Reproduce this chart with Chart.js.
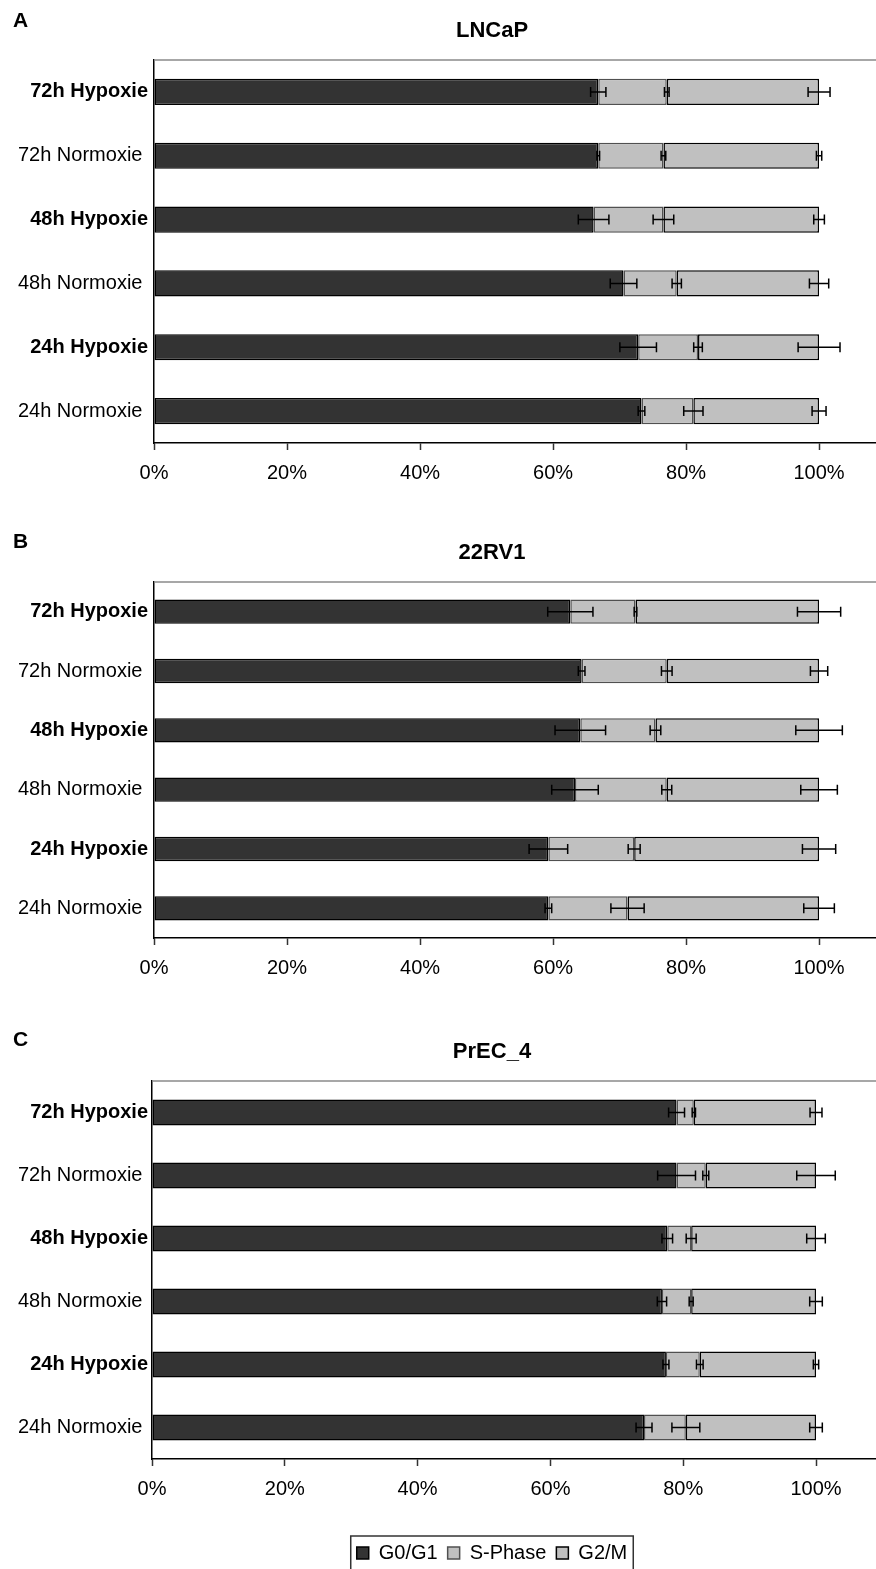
<!DOCTYPE html>
<html>
<head>
<meta charset="utf-8">
<title>Cell cycle distribution</title>
<script src="https://cdn.jsdelivr.net/npm/chart.js@4/dist/chart.umd.min.js"></script>
<style>
  html, body { margin: 0; padding: 0; background: #fff; width: 876px; height: 1569px; overflow: hidden; }
  canvas.panel { position: absolute; left: 0; }
</style>
</head>
<body>
<canvas id="panelA" class="panel"></canvas>
<canvas id="panelB" class="panel"></canvas>
<canvas id="panelC" class="panel"></canvas>
<script>
// ---- data ----
const categories = ['72h Hypoxie', '72h Normoxie ', '48h Hypoxie', '48h Normoxie ', '24h Hypoxie', '24h Normoxie '];
const seriesNames = ['G0/G1', 'S-Phase', 'G2/M'];
const xTicks = [0, 20, 40, 60, 80, 100];

// LNCaP (% of cells per phase, with error)
const lncapG0 = [66.8, 66.8, 66.1, 70.6, 72.8, 73.3];
const lncapS = [10.3, 9.8, 10.5, 8.0, 9.0, 7.8];
const lncapG2 = [22.9, 23.4, 23.4, 21.4, 18.2, 18.9];
const lncapG0Err = [1.15, 0.2, 2.3, 2.0, 2.75, 0.5];
const lncapSErr = [0.35, 0.35, 1.55, 0.7, 0.65, 1.45];
const lncapG2Err = [1.65, 0.4, 0.8, 1.45, 3.15, 1.05];

// 22RV1
const rv1G0 = [62.6, 64.3, 64.1, 63.3, 59.3, 59.3];
const rv1S = [9.8, 12.8, 11.3, 13.8, 12.9, 11.9];
const rv1G2 = [27.6, 22.9, 24.6, 22.9, 27.8, 28.8];
const rv1G0Err = [3.4, 0.5, 3.8, 3.5, 2.9, 0.5];
const rv1SErr = [0.2, 0.8, 0.8, 0.75, 0.9, 2.5];
const rv1G2Err = [3.25, 1.3, 3.5, 2.75, 2.5, 2.3];

// PrEC_4
const precG0 = [79.0, 79.0, 77.6, 76.8, 77.4, 74.1];
const precS = [2.6, 4.4, 3.6, 4.4, 5.1, 6.3];
const precG2 = [18.4, 16.6, 18.8, 18.8, 17.5, 19.6];
const precG0Err = [1.2, 2.85, 0.8, 0.7, 0.45, 1.2];
const precSErr = [0.25, 0.45, 0.75, 0.3, 0.5, 2.1];
const precG2Err = [0.9, 2.9, 1.4, 0.95, 0.4, 0.95];

// ---- styling ----
const FONT = '"Liberation Sans", Arial, Helvetica, sans-serif';
const phaseFill = ['#333333', '#c0c0c0', '#c0c0c0'];
const phaseBorder = ['#000000', '#505050', '#000000'];

// whiskers at the end of every stacked segment
const errorBarPlugin = {
  id: 'errorBars',
  afterDatasetsDraw(chart) {
    const { ctx } = chart;
    const xs = chart.scales.x;
    const totals = [];
    ctx.save();
    ctx.strokeStyle = '#000';
    ctx.lineWidth = 1.5;
    chart.data.datasets.forEach((ds, di) => {
      const meta = chart.getDatasetMeta(di);
      ds.data.forEach((v, i) => {
        totals[i] = (totals[i] || 0) + v;
        const err = ds.errors[i];
        const y = meta.data[i].y;
        const x1 = xs.getPixelForValue(totals[i] - err);
        const x2 = xs.getPixelForValue(totals[i] + err);
        const cap = 5;
        ctx.beginPath();
        ctx.moveTo(x1, y); ctx.lineTo(x2, y);
        ctx.moveTo(x1, y - cap); ctx.lineTo(x1, y + cap);
        ctx.moveTo(x2, y - cap); ctx.lineTo(x2, y + cap);
        ctx.stroke();
      });
    });
    ctx.restore();
  }
};

// upper edge of the plot area
const plotFramePlugin = {
  id: 'plotFrame',
  beforeDatasetsDraw(chart) {
    const { ctx, chartArea: a } = chart;
    ctx.save();
    ctx.strokeStyle = '#8a8a8a';
    ctx.lineWidth = 1.5;
    ctx.beginPath();
    ctx.moveTo(a.left, a.top);
    ctx.lineTo(a.right, a.top);
    ctx.stroke();
    ctx.restore();
  }
};

// panel letter in the top-left corner
const panelLetterPlugin = {
  id: 'panelLetter',
  afterDraw(chart, args, opts) {
    if (!opts.text) return;
    const { ctx } = chart;
    ctx.save();
    ctx.font = 'bold 21px ' + FONT;
    ctx.fillStyle = '#000';
    ctx.textAlign = 'left';
    ctx.textBaseline = 'middle';
    ctx.fillText(opts.text, opts.x, opts.y);
    ctx.restore();
  }
};

// frame drawn around the legend entries
const legendFramePlugin = {
  id: 'legendFrame',
  afterDraw(chart) {
    const lg = chart.legend;
    if (!lg || !lg.options.display || !lg.legendHitBoxes.length) return;
    const boxes = lg.legendHitBoxes;
    const left = Math.min(...boxes.map(b => b.left)) - 6;
    const right = Math.max(...boxes.map(b => b.left + b.width)) + 6;
    const top = Math.min(...boxes.map(b => b.top)) - 7;
    const bottom = Math.max(...boxes.map(b => b.top + b.height)) + 7;
    const { ctx } = chart;
    ctx.save();
    ctx.strokeStyle = '#333';
    ctx.lineWidth = 1.5;
    ctx.strokeRect(left, top, right - left, bottom - top);
    ctx.restore();
  }
};

function makePanel(cfg) {
  const canvas = document.getElementById(cfg.id);
  canvas.width = cfg.width;
  canvas.height = cfg.height;
  canvas.style.top = cfg.top + 'px';
  canvas.style.width = cfg.width + 'px';
  canvas.style.height = cfg.height + 'px';

  const series = [cfg.g0, cfg.s, cfg.g2];
  const errors = [cfg.g0Err, cfg.sErr, cfg.g2Err];
  const datasets = seriesNames.map((name, k) => ({
    label: name,
    data: series[k],
    errors: errors[k],
    backgroundColor: phaseFill[k],
    borderColor: phaseBorder[k],
    borderWidth: 1.5,
    borderSkipped: false,
    barPercentage: 0.41,
    categoryPercentage: 1.0
  }));

  return new Chart(canvas, {
    type: 'bar',
    data: { labels: categories, datasets },
    options: {
      indexAxis: 'y',
      responsive: false,
      animation: false,
      devicePixelRatio: 1,
      layout: { padding: { left: 0, right: cfg.padRight, top: 0, bottom: 0 } },
      plugins: {
        title: {
          display: true,
          text: cfg.title,
          color: '#000',
          font: { family: FONT, size: 22, weight: 'bold' },
          padding: { top: 18, bottom: 15.6 }
        },
        legend: {
          display: cfg.legend,
          position: 'bottom',
          labels: {
            color: '#000',
            font: { family: FONT, size: 20 },
            boxWidth: 12,
            boxHeight: 12,
            padding: 10
          }
        },
        tooltip: { enabled: false },
        panelLetter: { text: cfg.letter, x: 13, y: cfg.letterY }
      },
      scales: {
        x: {
          stacked: true,
          min: 0,
          max: cfg.xMax,
          afterBuildTicks: s => { s.ticks = xTicks.map(v => ({ value: v })); },
          afterFit: s => { s.height = cfg.axisHeight; },
          ticks: {
            callback: v => v + '%',
            color: '#000',
            font: { family: FONT, size: 20 },
            padding: 11,
            maxRotation: 0,
            autoSkip: false
          },
          grid: {
            display: true,
            drawOnChartArea: false,
            drawTicks: true,
            tickLength: 7,
            tickColor: '#333',
            tickWidth: 1.5
          },
          border: { display: true, color: '#000', width: 1.5 }
        },
        y: {
          stacked: true,
          afterFit: s => { s.width = cfg.axisLeft; },
          ticks: {
            color: '#000',
            padding: cfg.labelPad,
            font: c => ({
              family: FONT,
              size: 20,
              weight: (c.tick && /Hypoxie/.test(c.tick.label)) ? 'bold' : 'normal'
            })
          },
          grid: { display: false, drawTicks: false },
          border: { display: true, color: '#000', width: 1.5 }
        }
      }
    },
    plugins: [plotFramePlugin, errorBarPlugin, panelLetterPlugin, legendFramePlugin]
  });
}

makePanel({
  id: 'panelA', top: 0, width: 990, height: 483,
  padRight: 6, axisLeft: 154, axisHeight: 40, labelPad: 6, xMax: 124.8,
  title: 'LNCaP', letter: 'A', letterY: 21, legend: false,
  g0: lncapG0, s: lncapS, g2: lncapG2,
  g0Err: lncapG0Err, sErr: lncapSErr, g2Err: lncapG2Err
});

makePanel({
  id: 'panelB', top: 522, width: 990, height: 456,
  padRight: 6, axisLeft: 154, axisHeight: 40, labelPad: 6, xMax: 124.8,
  title: '22RV1', letter: 'B', letterY: 20, legend: false,
  g0: rv1G0, s: rv1S, g2: rv1G2,
  g0Err: rv1G0Err, sErr: rv1SErr, g2Err: rv1G2Err
});

makePanel({
  id: 'panelC', top: 1021, width: 990, height: 552,
  padRight: 6, axisLeft: 152, axisHeight: 74, labelPad: 4, xMax: 125.3,
  title: 'PrEC_4', letter: 'C', letterY: 19, legend: true,
  g0: precG0, s: precS, g2: precG2,
  g0Err: precG0Err, sErr: precSErr, g2Err: precG2Err
});
</script>
</body>
</html>
